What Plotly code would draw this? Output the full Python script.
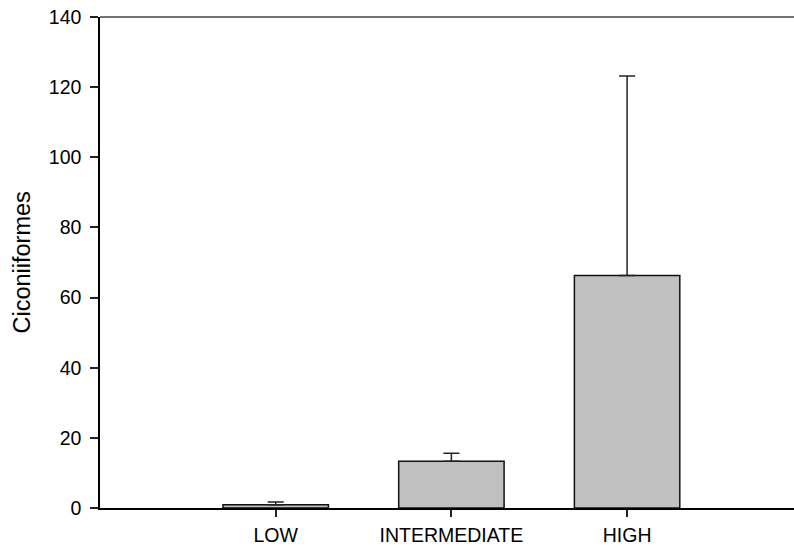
import plotly.graph_objects as go

categories = ["LOW", "INTERMEDIATE", "HIGH"]
means = [0.9, 13.3, 66.3]
errors_plus = [0.8, 2.3, 56.9]
errors_minus = [0, 0, 0]
y_ticks = [0, 20, 40, 60, 80, 100, 120, 140]

FONT = "Liberation Sans, Arial, sans-serif"

fig = go.Figure()
fig.add_trace(go.Bar(
    x=categories,
    y=means,
    width=0.6,
    marker=dict(color="#c0c0c0", line=dict(color="#111111", width=1.5)),
    error_y=dict(type="data", array=errors_plus, arrayminus=errors_minus,
                 symmetric=False, color="#222222", thickness=1.5, width=8),
    showlegend=False,
))

fig.update_layout(
    width=794, height=548,
    margin=dict(l=100, r=0, t=17, b=40),
    paper_bgcolor="white", plot_bgcolor="white",
    font=dict(family=FONT, color="black"),
    xaxis=dict(
        type="category", range=[-1, 2.95],
        showline=True, linecolor="black", linewidth=1.5,
        ticks="outside", ticklen=7, tickwidth=1.5, tickcolor="#222222",
        tickfont=dict(size=19.5, family=FONT, color="black"),
        ticklabelstandoff=2,
        showgrid=False, zeroline=False,
    ),
    yaxis=dict(
        range=[0, 140], tickvals=y_ticks,
        showline=True, linecolor="black", linewidth=1.5,
        ticks="outside", ticklen=8, tickwidth=1.5, tickcolor="#222222",
        tickfont=dict(size=19.5, family=FONT, color="black"),
        ticklabelstandoff=5,
        showgrid=False, zeroline=False,
    ),
    bargap=0.4,
)

fig.add_shape(type="line", xref="paper", yref="paper", x0=0, x1=1, y0=1, y1=1,
              line=dict(color="#444444", width=1.5))

fig.add_annotation(text="Ciconiiformes", xref="paper", yref="paper",
                   x=(21 - 100) / 694, y=0.5, xanchor="center", yanchor="middle",
                   textangle=-90, showarrow=False,
                   font=dict(size=23.5, family=FONT, color="black"))

fig.write_html("out.html")
